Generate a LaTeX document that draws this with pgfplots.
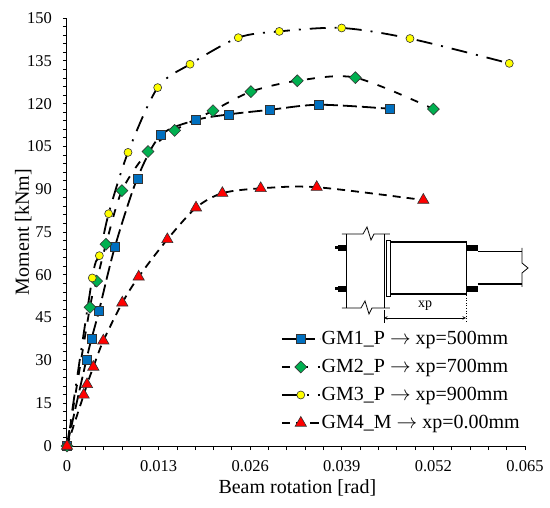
\documentclass[border=0pt]{standalone}
\usepackage{fontspec}
\setmainfont{Liberation Serif}
\usepackage{pgfplots}
\pgfplotsset{compat=1.18}
\definecolor{gmblue}{HTML}{0070C0}
\definecolor{gmgreen}{HTML}{00B050}
\definecolor{gmyellow}{HTML}{FFFF00}
\definecolor{gmred}{HTML}{FF0000}
\begin{document}
\begin{tikzpicture}
\useasboundingbox (-67bp,-62bp) rectangle (483bp,446bp);
\begin{axis}[
  scale only axis, width=458bp, height=428bp,
  xmin=0, xmax=0.065, ymin=0, ymax=150,
  axis lines=left, axis line style={-, line width=1bp, black},
  clip=false,
  scaled x ticks=false,
  xtick={0,0.013,0.026,0.039,0.052,0.065},
  xticklabels={0,0.013,0.026,0.039,0.052,0.065},
  ytick={0,15,30,45,60,75,90,105,120,135,150},
  minor x tick num=4, minor y tick num=4,
  tick align=outside,
  major tick length=4bp, minor tick length=4bp,
  every tick/.style={black, line width=0.8bp},
  /pgf/number format/assume math mode=true,
  tick label style={font=\fontsize{16.5bp}{18bp}\selectfont},
  yticklabel style={anchor=east, inner sep=0pt, xshift=-11bp},
  xticklabel style={anchor=north, inner sep=0pt, yshift=-10bp},
  xlabel={Beam rotation [rad]},
  ylabel={Moment [kNm]},
  every axis x label/.style={at={(rel axis cs:0.503,-0.1121)}, anchor=base, font=\fontsize{20bp}{24bp}\selectfont},
  every axis y label/.style={at={(rel axis cs:-0.083,0.5)}, anchor=base, rotate=90, font=\fontsize{20bp}{24bp}\selectfont},
  legend style={draw=none, fill=none, at={(rel axis cs:0.4666,0.1519)}, anchor=west,
    font=\fontsize{20bp}{22bp}\selectfont, inner sep=0pt, row sep=7bp,
    nodes={inner sep=1bp, text height=15bp, text depth=4bp, anchor=west}},
  legend cell align=left,
  legend image code/.code={\draw[mark repeat=2,mark phase=2,#1] plot coordinates {(0bp,0bp) (19bp,0bp) (38bp,0bp)};},
]
\addplot[black, line width=1.8bp, dash pattern=on 14bp off 5bp, smooth, tension=0.5,
  mark=square*, mark size=4.5bp, mark options={solid, fill=gmblue, draw=black!80, line width=0.6bp}]
  coordinates {(0,0) (0.00274,30.1) (0.0035,37.7) (0.00454,47.4) (0.00681,69.9) (0.00998,93.8) (0.0133,108.9) (0.01826,114.2) (0.0229,116.2) (0.02872,117.8) (0.03577,119.6) (0.04575,118.2)};
\addlegendentry{GM1\_P $\rightarrow$ xp=500mm}
\addplot[black, line width=1.8bp, dash pattern=on 8bp off 10bp, smooth, tension=0.5,
  mark=square*, mark size=4.2bp, mark options={solid, rotate=45, fill=gmgreen, draw=black!80, line width=0.6bp}]
  coordinates {(0,0) (0.00326,48.6) (0.00421,57.8) (0.00553,70.7) (0.0078,89.5) (0.0115,103.2) (0.01528,110.6) (0.02072,117.5) (0.02611,124.2) (0.03269,128.0) (0.04092,129.1) (0.052,118.1)};
\addlegendentry{GM2\_P $\rightarrow$ xp=700mm}
\addplot[black, line width=1.8bp, dash pattern=on 16bp off 9bp on 2bp off 9bp, smooth, tension=0.5,
  mark=*, mark size=4bp, mark options={solid, fill=gmyellow, draw=black!80, line width=0.6bp}]
  coordinates {(0,0) (0.00359,58.9) (0.00459,66.7) (0.00591,81.4) (0.00866,102.9) (0.01287,125.6) (0.01746,133.8) (0.02431,143.1) (0.03013,145.3) (0.03898,146.5) (0.04868,142.8) (0.06277,134.1)};
\addlegendentry{GM3\_P $\rightarrow$ xp=900mm}
\addplot[black, line width=1.8bp, dash pattern=on 8bp off 6bp, smooth, tension=0.5,
  mark=triangle*, mark size=6.5bp, mark options={solid, fill=gmred, draw=black!80, line width=0.6bp}]
  coordinates {(0,0) (0.00237,17.9) (0.00284,21.6) (0.00374,27.7) (0.00516,36.9) (0.00785,50.2) (0.01017,59.3) (0.01424,72.4) (0.01831,83.5) (0.02205,88.6) (0.02749,90.3) (0.03544,90.7) (0.05057,86.2)};
\addlegendentry{GM4\_M $\rightarrow$ xp=0.00mm}
\end{axis}
\begin{scope}[x=1bp,y=-1bp,shift={(-67bp,446bp)}]
  \draw[line width=0.8bp] (342,234)--(363,234)--(367,227)--(371,240)--(374,234)--(390,234);
  \draw[line width=0.8bp] (346,234)--(346,308);
  \draw[line width=0.8bp] (384,234)--(384,308);
  \draw[line width=0.8bp] (342,308)--(361,308)--(365,301)--(369,314)--(372,308)--(390,308);
  \draw[line width=0.8bp] (386,240) rectangle (390,296);
  \draw[line width=1.3bp] (390,242)--(466.5,242)--(466.5,294)--(390,294);
  \fill (466.5,245) rectangle (478,251);
  \fill (466.5,286) rectangle (478,292);
  \draw[line width=1.3bp] (478,251.5)--(522,251.5);
  \draw[line width=1.3bp] (478,284)--(522,284);
  \draw[line width=0.8bp] (522,248)--(522,263)--(528,268)--(522,273)--(522,287);
  \fill (338,245) rectangle (346,251);
  \fill (338,286) rectangle (346,292);
  \fill (335,246.5) rectangle (338,249.5);
  \fill (335,287.5) rectangle (338,290.5);
  \draw[line width=0.6bp] (384,310)--(384,323);
  \draw[line width=0.6bp, dotted] (466,295)--(466,323);
  \draw[line width=0.6bp, <->, >=stealth] (384,318)--(466,318);
  \node[font=\fontsize{14bp}{16bp}\selectfont, inner sep=0pt] at (425,306) {xp};
\end{scope}
\end{tikzpicture}
\end{document}
